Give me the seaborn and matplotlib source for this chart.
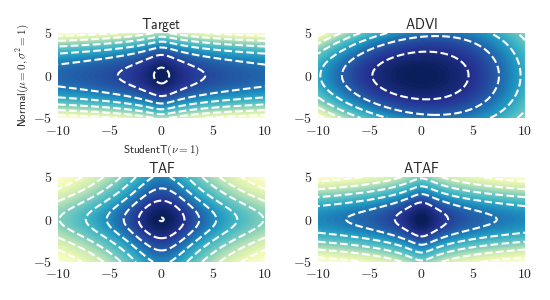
import math
import numpy as np
import matplotlib
matplotlib.use("Agg")
import matplotlib.pyplot as plt
import seaborn as sns

# ---- data ----
TITLES = ["Target", "ADVI", "TAF", "ATAF"]
X_LIM = [-10, 10]
Y_LIM = [-5, 5]
X_TICKS = [-10, -5, 0, 5, 10]
Y_TICKS = [-5, 0, 5]
X_LABEL = r"$\mathsf{StudentT}(\nu=1)$"
Y_LABEL = r"$\mathsf{Normal}(\mu=0, \sigma^2=1)$"

# Target: StudentT(nu=1) in x, Normal(0, 1) in y
TARGET_T = [1.0, 1.0]          # nu, scale
TARGET_N = [0.0, 1.0]          # mu, sigma
# ADVI: Gaussian-like fit  (mean_x, sd_x, sd_y, skew of y-scale along x)
ADVI_PARAMS = [-0.1, 3.0, 1.8, 0.055]
ADVI_LEVELS = [-13.2, -11.2, -9.2, -7.2, -5.2, -3.2, -1.2]
# TAF: same tail index in both dims (nu, scale) for x and y
TAF_X = [3.0, 1.5]
TAF_Y = [3.0, 1.5]
TAF_LEVELS = [-7.65, -6.56, -5.47, -4.38, -3.28, -2.18, -1.09, -0.013]
# ATAF: adaptive tail index per dim
ATAF_X = [0.8, 1.08]
ATAF_Y = [13.0, 1.0]
ATAF_LEVELS = [-10.73, -8.96, -7.19, -5.42, -3.65, -1.88]


def log_t(u, nu, s):
    c = (math.lgamma((nu + 1) / 2) - math.lgamma(nu / 2)
         - 0.5 * math.log(nu * math.pi) - math.log(s))
    return c - (nu + 1) / 2 * np.log1p((u / s) ** 2 / nu)


def log_norm(u, mu, sd):
    return -0.5 * ((u - mu) / sd) ** 2 - math.log(sd) - 0.5 * math.log(2 * math.pi)


sns.set_theme(style="white")
plt.rcParams["mathtext.fontset"] = "cm"
plt.rcParams["font.family"] = ["DejaVu Sans"]

xs = np.linspace(X_LIM[0], X_LIM[1], 300)
ys = np.linspace(Y_LIM[0], Y_LIM[1], 300)
X, Y = np.meshgrid(xs, ys)

fields = []
z = log_t(X, *TARGET_T) + log_norm(Y, *TARGET_N)
fields.append((z, None))
mx, sx, sy, g = ADVI_PARAMS
z = -0.5 * ((X - mx) / sx) ** 2 - 0.5 * (Y / sy) ** 2 * np.exp(-g * X)
fields.append((z - z.max(), ADVI_LEVELS))
z = log_t(X, *TAF_X) + log_t(Y, *TAF_Y)
fields.append((z - z.max(), TAF_LEVELS))
z = log_t(X, *ATAF_X) + log_t(Y, *ATAF_Y)
fields.append((z - z.max(), ATAF_LEVELS))

cmap = sns.color_palette("YlGnBu", as_cmap=True)

fig, axes = plt.subplots(2, 2, figsize=(5.5, 3.0), dpi=100)
fig.subplots_adjust(left=0.1055, right=0.9545, top=0.89, bottom=0.127,
                    wspace=0.256, hspace=0.694)

for ax, title, (z, lev) in zip(axes.flat, TITLES, fields):
    ax.contourf(X, Y, z, levels=100, cmap=cmap)
    if lev is None:
        ax.contour(X, Y, z, colors="white", linestyles="--", linewidths=1.5)
    else:
        ax.contour(X, Y, z, levels=lev, colors="white", linestyles="--",
                   linewidths=1.5)
    ax.set_xlim(X_LIM)
    ax.set_ylim(Y_LIM)
    ax.set_xticks(X_TICKS)
    ax.set_xticklabels([f"${v}$" for v in X_TICKS])
    ax.set_yticks(Y_TICKS)
    ax.set_yticklabels([f"${v}$" for v in Y_TICKS])
    ax.tick_params(labelsize=10, length=0, pad=4)
    ax.set_title(r"$\mathsf{%s}$" % title, fontsize=10, pad=3)
    sns.despine(ax=ax, left=True, bottom=True)

axes[0, 0].set_xlabel(X_LABEL, fontsize=8, labelpad=4)
axes[0, 0].set_ylabel(Y_LABEL, fontsize=8, labelpad=2)

fig.savefig("out.png", dpi=100)
